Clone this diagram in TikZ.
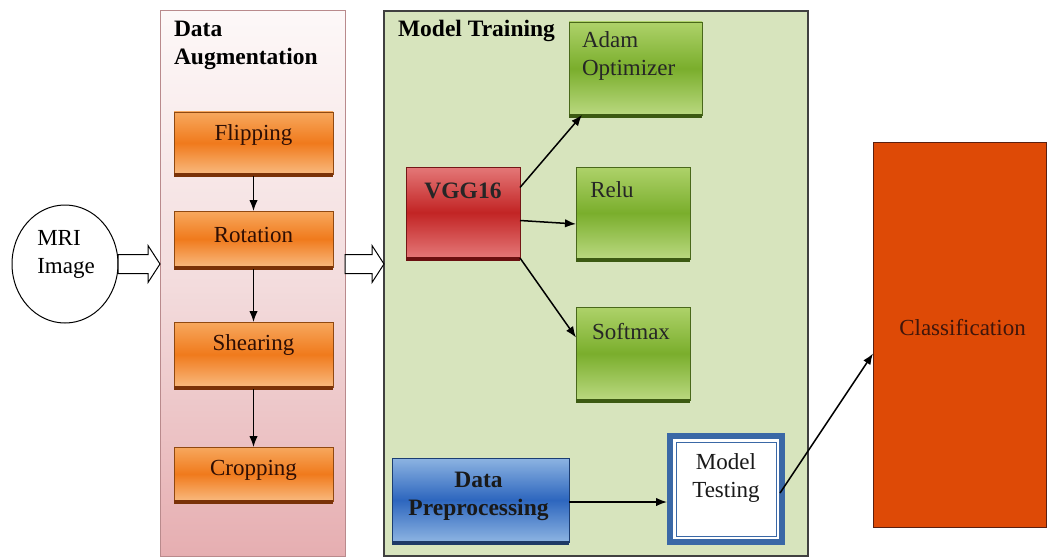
\documentclass[tikz,border=0pt]{standalone}
\usepackage{fontspec}
\setmainfont{Liberation Serif}
\newfontfamily\diagfont{Liberation Serif}
\usetikzlibrary{arrows.meta,calc,shapes.geometric}

\definecolor{panelpinkT}{HTML}{FDF8F8}
\definecolor{panelpinkM}{HTML}{F3DCDD}
\definecolor{panelpinkB}{HTML}{E6AEB1}
\definecolor{panelpinkD}{HTML}{B98A8C}
\definecolor{panelgreen}{HTML}{D7E4BD}
\definecolor{orL}{HTML}{F7A85E}
\definecolor{orM}{HTML}{F07A1C}
\definecolor{orS}{HTML}{7A3208}
\definecolor{orT}{HTML}{2E0E04}
\definecolor{grL}{HTML}{AED26A}
\definecolor{grM}{HTML}{7AAE2C}
\definecolor{grS}{HTML}{3C5A12}
\definecolor{rdL}{HTML}{E47878}
\definecolor{rdM}{HTML}{C22424}
\definecolor{rdS}{HTML}{6A1010}
\definecolor{blL}{HTML}{8DB4E2}
\definecolor{blM}{HTML}{2D66BE}
\definecolor{blS}{HTML}{1E3A66}
\definecolor{blF}{HTML}{3A68A6}
\definecolor{clsF}{HTML}{DE4A06}
\definecolor{clsD}{HTML}{5A2010}

\newcommand\hollowarrow[2]{%
  \draw[hollow] ($(#1)+(0,-9.5)$) -- ($(#2)+(-12,-9.5)$) -- ($(#2)+(-12,-18.5)$)
    -- (#2) -- ($(#2)+(-12,18.5)$) -- ($(#2)+(-12,9.5)$) -- ($(#1)+(0,9.5)$) -- cycle;}

\begin{document}
\begin{tikzpicture}[x=1pt,y=-1pt,
  every node/.style={inner sep=0pt, outer sep=0pt},
  txt/.style={font=\diagfont\fontsize{23}{28}\selectfont, align=center},
  btxt/.style={font=\diagfont\fontsize{23.5}{28}\selectfont\bfseries, align=center},
  ttl/.style={btxt, align=left, anchor=north west},
  blk/.style={anchor=north west, draw=#1!60!black, line width=0.5pt},
  obox/.style={blk=orM, top color=orL, bottom color=orL!80!white, middle color=orM},
  gbox/.style={blk=grM, top color=grL, bottom color=grL!85!white, middle color=grM},
  rbox/.style={blk=rdM, top color=rdL, bottom color=rdL, middle color=rdM},
  bbox/.style={blk=blM, top color=blL, bottom color=blL, middle color=blM},
  arr/.style={-{Latex[length=11pt,width=8.5pt]}, line width=1.5pt, black},
  hollow/.style={draw=black, line width=1pt, fill=white, line join=miter},
  shadow/.style={line width=3.5pt, #1}
]
\useasboundingbox (0,0) rectangle (1048,559);

% --- panels ---
\node[anchor=north west, minimum width=185pt, minimum height=545pt,
      draw=panelpinkD, line width=1pt,
      top color=panelpinkT, bottom color=panelpinkB, middle color=panelpinkM] (aug) at (160,11) {};
\node[anchor=north west, minimum width=424pt, minimum height=545pt,
      draw=black!75, line width=1.2pt, fill=panelgreen] (train) at (384,11) {};

\node[ttl] (augT) at (174,21) {Data\\Augmentation};
\node[ttl] (trainT) at (398,20) {Model Training};

% --- input ---
\node[draw=black, line width=1pt, fill=white, ellipse, minimum width=106pt, minimum height=118pt]
  (mri) at (65,264) {};
\node[txt, align=left] at (66,254) {MRI\\Image};

% --- augmentation steps ---
\node[obox, minimum width=159pt, minimum height=62pt] (flip) at (174,112) {};
\node[obox, minimum width=159pt, minimum height=56pt] (rot)  at (174,211) {};
\node[obox, minimum width=159pt, minimum height=65pt] (shear) at (174,322) {};
\node[obox, minimum width=159pt, minimum height=54pt] (crop) at (174,447) {};
\foreach \n in {flip,rot,shear,crop}
  \draw[shadow=orS] ([yshift=-1pt]\n.south west) -- ([yshift=-1pt]\n.south east);
\node[txt, text=orT] at ($(flip.center)+(0,-8)$) {Flipping};
\node[txt, text=orT] at ($(rot.center)+(0,-4)$) {Rotation};
\node[txt, text=orT] at ($(shear.center)+(0,-10)$) {Shearing};
\node[txt, text=orT] at ($(crop.center)+(0,-4)$) {Cropping};

\draw[arr] ([yshift=-2pt]flip.south) -- (rot.north);
\draw[arr] ([yshift=-2pt]rot.south) -- (shear.north);
\draw[arr] ([yshift=-2pt]shear.south) -- (crop.north);

% --- model training blocks ---
\node[gbox, minimum width=133pt, minimum height=93pt] (adam) at (569,22) {};
\node[rbox, minimum width=114pt, minimum height=91pt] (vgg) at (406,167) {};
\node[gbox, minimum width=114pt, minimum height=92pt] (relu) at (576,167) {};
\node[gbox, minimum width=114pt, minimum height=93pt] (soft) at (576,307) {};
\node[bbox, minimum width=177pt, minimum height=84pt] (prep) at (392,458) {};
\draw[shadow=grS] ([yshift=-1pt]adam.south west) -- ([yshift=-1pt]adam.south east);
\draw[shadow=grS] ([yshift=-1pt]relu.south west) -- ([yshift=-1pt]relu.south east);
\draw[shadow=grS] ([yshift=-1pt]soft.south west) -- ([yshift=-1pt]soft.south east);
\draw[shadow=rdS] ([yshift=-1pt]vgg.south west) -- ([yshift=-1pt]vgg.south east);
\draw[shadow=blS] ([yshift=-1pt]prep.south west) -- ([yshift=-1pt]prep.south east);

\node[txt, align=left, anchor=north west, text=black!85] at (582,32) {Adam\\Optimizer};
\node[btxt, text=black!85] at ($(vgg.center)+(0,-22)$) {VGG16};
\node[txt, text=black!85] at ($(relu.center)+(-21,-23)$) {Relu};
\node[txt, text=black!85] at ($(soft.center)+(-2,-22)$) {Softmax};
\node[btxt, text=black!90] at ($(prep.center)+(-2,-4)$) {Data\\Preprocessing};

% --- model testing ---
\node[anchor=north west, minimum width=112pt, minimum height=106pt,
      draw=blF, line width=6pt, fill=white] (test) at (670,436) {};
\draw[blF, line width=1pt] ([shift={(6,6)}]test.north west) rectangle ([shift={(-6,-6)}]test.south east);
\node[txt, text=black!90] at ($(test.center)+(0,-11)$) {Model\\Testing};

% --- classification ---
\node[anchor=north west, minimum width=173pt, minimum height=385pt,
      draw=clsD, line width=1pt, fill=clsF] (cls) at (873,142) {};
\node[txt, text=clsD!70!black] at ($(cls.center)+(3,-7)$) {Classification};

% --- connectors ---
\hollowarrow{mri.east}{aug.west |- mri.east}
\hollowarrow{aug.east |- mri.east}{train.west |- mri.east}

\draw[arr] ([yshift=25pt]vgg.east) -- ([xshift=13pt]adam.south west);
\draw[arr] ([yshift=-8pt]vgg.east) -- ([yshift=-11pt]relu.west);
\draw[arr] (vgg.south east) -- ([yshift=16pt]soft.west);
\draw[arr] ([yshift=-2pt]prep.east) -- ([yshift=-13pt,xshift=-3pt]test.west);
\draw[arr] ([yshift=-4pt,xshift=-2pt]test.east) -- ([yshift=-19pt]cls.west);
\end{tikzpicture}
\end{document}
